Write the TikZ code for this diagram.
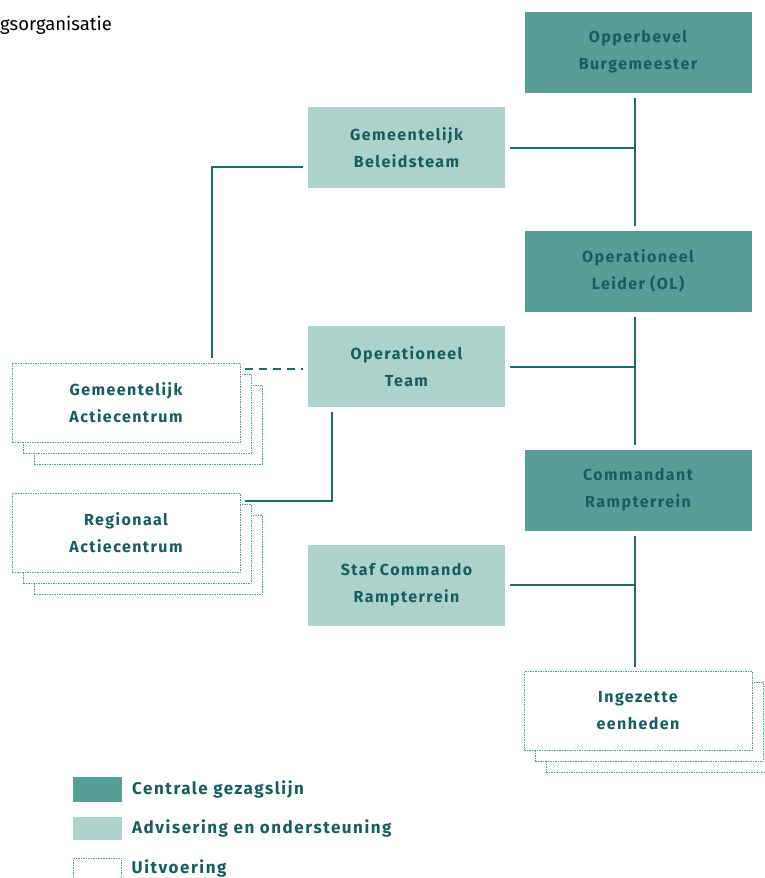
\documentclass[tikz,border=0pt]{standalone}
\usepackage{fontspec}
\setmainfont{Fira Sans}
\newfontfamily\spatie{Fira Sans}[LetterSpace=9]
\usetikzlibrary{positioning}
\definecolor{gezag}{RGB}{88,158,152}
\definecolor{advies}{RGB}{172,210,203}
\definecolor{lijn}{RGB}{28,108,110}
\definecolor{tekst}{RGB}{24,94,96}
\definecolor{rand}{RGB}{72,162,150}

\begin{document}
\begin{tikzpicture}[x=1pt, y=-1pt,
    box/.style={minimum width=227pt, minimum height=81pt, inner sep=0pt,
      outer sep=5pt, align=center, text=tekst,
      font=\fontsize{16}{27}\selectfont\spatie\bfseries},
    gezagbox/.style={box, fill=gezag},
    adviesbox/.style={box, fill=advies, minimum width=197pt},
    uitvbox/.style={box, fill=white, draw=rand, line width=1pt,
      dash pattern=on 1.5pt off 1pt, minimum width=228pt, minimum height=79pt},
    verbind/.style={draw=lijn, line width=2pt},
    legtekst/.style={inner sep=0pt, text=tekst,
      font=\fontsize{17}{20}\selectfont\spatie\bfseries}]
  \useasboundingbox (0,0) rectangle (765,878);
  \node[anchor=west, inner sep=0pt, font=\fontsize{18.5}{22}\selectfont] (titel)
    at (0,25) {gsorganisatie};
  % centrale gezagslijn
  \node[gezagbox] (obb) at (638,52) {Opperbevel\\Burgemeester};
  \node[gezagbox] (ol) at (638,271) {Operationeel\\Leider (OL)};
  \node[gezagbox] (cr) at (638,490) {Commandant\\Rampterrein};
  % advisering en ondersteuning
  \node[adviesbox] (gbt) at (406.5,147.5) {Gemeentelijk\\Beleidsteam};
  \node[adviesbox] (ot) at (406.5,366.5) {Operationeel\\Team};
  \node[adviesbox] (scr) at (406.5,585) {Staf Commando\\Rampterrein};
  % uitvoering, gestapeld
  \foreach \cx/\cy in {126/402.5, 126/533, 638/711}
    \foreach \k in {22,11}
      \node[uitvbox] at ({\cx+\k},{\cy+\k}) {};
  \node[uitvbox] (gac) at (126,402.5) {Gemeentelijk\\Actiecentrum};
  \node[uitvbox] (rac) at (126,533) {Regionaal\\Actiecentrum};
  \node[uitvbox] (ie) at (638,711) {Ingezette\\eenheden};
  % lijnen
  \coordinate (spine) at (635,0);
  \draw[verbind] (obb.south -| spine) -- (ol.north -| spine);
  \draw[verbind] (ol.south -| spine) -- (cr.north -| spine);
  \draw[verbind] (cr.south -| spine) -- (ie.north -| spine);
  \draw[verbind] (gbt.east) -- (gbt.east -| spine);
  \draw[verbind] (ot.east) -- (ot.east -| spine);
  \draw[verbind] (scr.east) -- (scr.east -| spine);
  \draw[verbind] ([yshift=-19.5pt]gbt.west) -| ([xshift=86pt]gac.north);
  \draw[verbind, dash pattern=on 8pt off 6pt] ([yshift=33.5pt]gac.east)
    -- ([yshift=33.5pt]gac.east -| ot.west);
  \draw[verbind] ([yshift=32pt]rac.east) -| ([xshift=-74.5pt]ot.south);
  % legenda
  \node[gezagbox, minimum width=49pt, minimum height=25pt, outer sep=0pt]
    (lg1) at (97.5,789.5) {};
  \node[adviesbox, minimum width=49pt, minimum height=23pt, outer sep=0pt]
    (lg2) at (97.5,828.5) {};
  \node[uitvbox, minimum width=48pt, minimum height=20pt, outer sep=0pt]
    (lg3) at (97.5,868) {};
  \node[legtekst, right=10pt of lg1] {Centrale gezagslijn};
  \node[legtekst, right=10pt of lg2] {Advisering en ondersteuning};
  \node[legtekst, right=10pt of lg3] {Uitvoering};
\end{tikzpicture}
\end{document}
